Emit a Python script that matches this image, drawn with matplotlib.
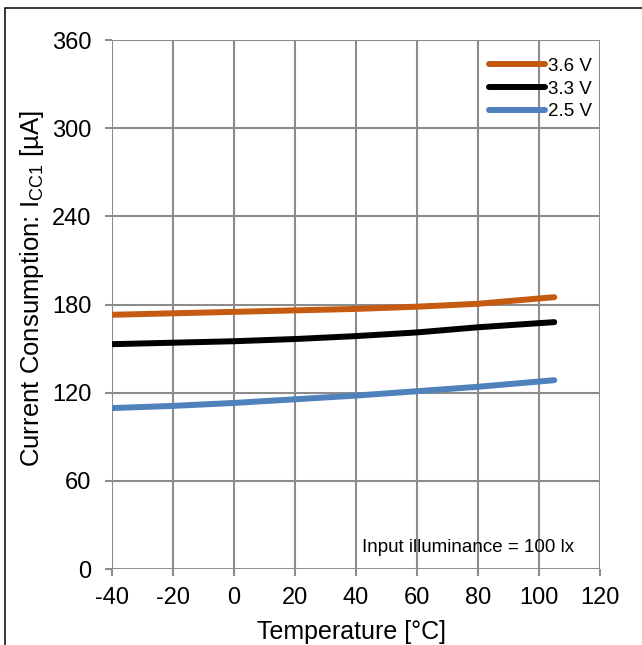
import matplotlib.pyplot as plt
from matplotlib.patches import Rectangle

plt.rcParams['font.family'] = ['Liberation Sans', 'DejaVu Sans']
plt.rcParams['mathtext.fontset'] = 'custom'
plt.rcParams['mathtext.rm'] = 'Liberation Sans'
plt.rcParams['axes.unicode_minus'] = False

temps = [-40, -20, 0, 20, 40, 60, 80, 105]
icc_36 = [173, 174, 175, 176, 177, 178.5, 180.5, 185]
icc_33 = [153, 154, 155, 156.5, 158.5, 161, 164.5, 168]
icc_25 = [109.5, 111, 113, 115.5, 118, 121, 124, 128.5]
labels = ['3.6 V', '3.3 V', '2.5 V']
colors = ['#C55A11', '#000000', '#4F81BD']

x_ticks = list(range(-40, 121, 20))
y_ticks = list(range(0, 361, 60))

grid_col = '#8C8C8C'

fig = plt.figure(figsize=(6.42, 6.45), dpi=100)
ax = fig.add_axes([112 / 642, 76 / 645, 488 / 642, 529 / 645])

for ys, lab, col in zip([icc_36, icc_33, icc_25], labels, colors):
    ax.plot(temps, ys, color=col, lw=4.3, solid_capstyle='round', label=lab, zorder=3)

ax.set_xlim(-40, 120)
ax.set_ylim(0, 360)
ax.set_xticks(x_ticks)
ax.set_yticks(y_ticks)
ax.grid(True, color=grid_col, lw=1.5)
ax.set_axisbelow(True)
for s in ax.spines.values():
    s.set_visible(False)
ax.tick_params(axis='both', length=5, width=1.5, color=grid_col, labelsize=17,
               labelcolor='black')
ax.tick_params(axis='y', pad=10)
ax.tick_params(axis='x', pad=8)

ax.set_xlabel('Temperature [°C]', fontsize=18, labelpad=8)
ax.xaxis.label.set_x(0.49)
ax.set_ylabel(r'Current Consumption: I$_{\mathregular{CC1}}$ [µA]', fontsize=18.5)
ax.yaxis.set_label_coords(-0.135, 0.531)

ax.legend(loc='upper right', bbox_to_anchor=(1.0 + 10 / 488, 1.0), frameon=False,
          fontsize=13.5, handlelength=3.0, handletextpad=0.15, labelspacing=0.3,
          borderaxespad=0.55)

ax.text(42, 14.3, 'Input illuminance = 100 lx', fontsize=13.5, va='center', ha='left')

# outer chart frame
fig.add_artist(Rectangle((4.5 / 642, -0.1), 1.2, 1.1 - 8 / 645, transform=fig.transFigure,
                         fill=False, edgecolor='black', lw=1.1))

fig.savefig('out.png', dpi=100)
